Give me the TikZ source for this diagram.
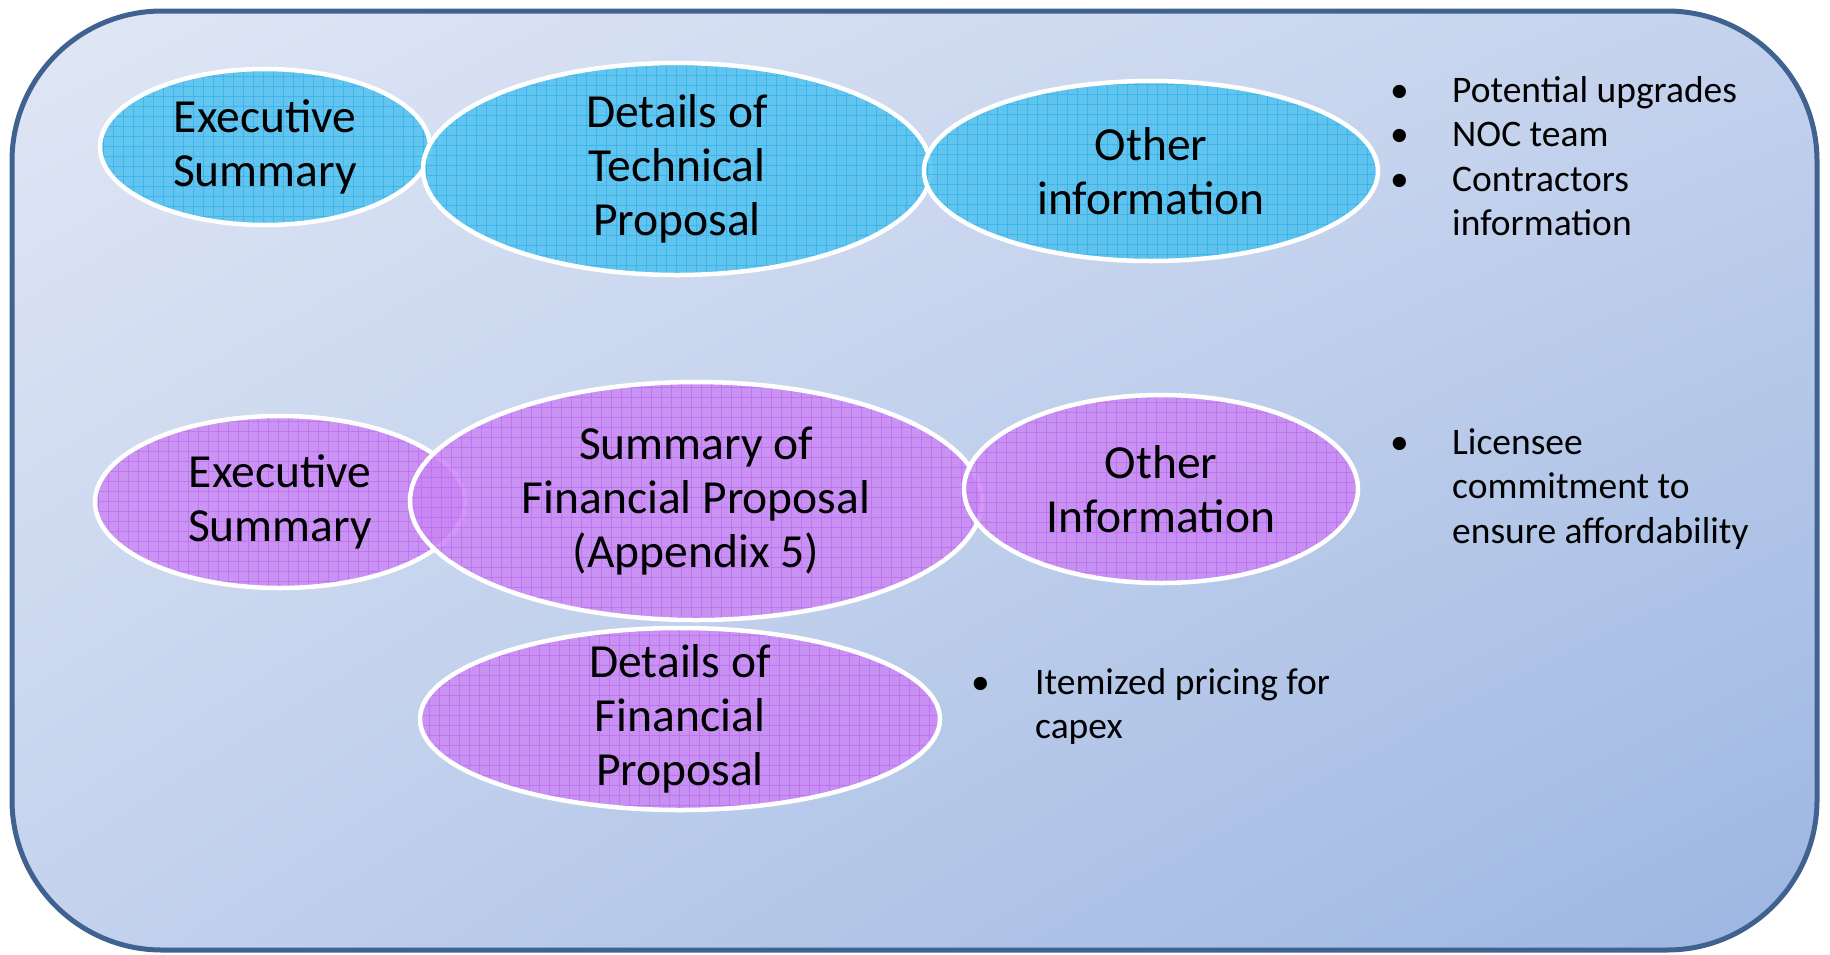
\documentclass[tikz,border=0pt]{standalone}
\usepackage{fontspec}
\setmainfont{Carlito}
\usetikzlibrary{shapes.geometric,shadings}

\definecolor{techfill}{RGB}{79,193,239}
\definecolor{techgrid}{RGB}{30,170,232}
\definecolor{finfill}{RGB}{201,136,244}
\definecolor{fingrid}{RGB}{190,90,240}
\definecolor{frameline}{RGB}{63,98,144}
\definecolor{bgtl}{RGB}{224,231,245}
\definecolor{bgmid}{RGB}{196,210,237}
\definecolor{bgbr}{RGB}{156,182,226}

\tikzset{
	bubble/.style={ellipse, draw=white, line width=4.5pt, inner xsep=0pt, inner ysep=-16pt, align=center,
		fill opacity=0.85, text opacity=1, font=\fontsize{47.5}{53.7}\selectfont},
	techbubble/.style={bubble, fill=techfill, path picture={\draw[techgrid, line width=1pt, draw opacity=0.55]
		(path picture bounding box.south west) grid[step=10pt] (path picture bounding box.north east);}},
	finbubble/.style={bubble, fill=finfill, path picture={\draw[fingrid, line width=1pt, draw opacity=0.55]
		(path picture bounding box.south west) grid[step=10pt] (path picture bounding box.north east);}},
	bullets/.style={inner sep=0pt, anchor=base west, font=\fontsize{37.5}{44.5}\selectfont}
}

\begin{document}
\begin{tikzpicture}[x=1pt,y=1pt]
	\useasboundingbox (0,0) rectangle (1830,-954);
	\shade[rounded corners=150pt, upper left=bgtl, upper right=bgmid, lower left=bgmid, lower right=bgbr] (12,-11) rectangle (1817,-950);
	\draw[frameline, line width=5pt, rounded corners=150pt] (12,-11) rectangle (1817,-950);
	%
	\node[techbubble, minimum width=330pt, minimum height=156pt] (techexec) at (265,-147) {Executive\\Summary};
	\node[techbubble, minimum width=508pt, minimum height=212pt] (techdetails) at (677,-169) {Details of\\Technical\\Proposal};
	\node[techbubble, minimum width=454pt, minimum height=180pt] (techother) at (1151,-171) {Other\\information};
	\node[bullets] (techlist) at (1390,-102) {\begin{tabular}[t]{@{}p{62pt}@{}l@{}}
		\textbullet & Potential upgrades\\
		\textbullet & NOC team\\
		\textbullet & Contractors\\
		 & information
	\end{tabular}};
	%
	\node[finbubble, minimum width=370pt, minimum height=172pt] (finexec) at (280,-502) {Executive\\Summary};
	\node[finbubble, minimum width=572pt, minimum height=238pt] (finsummary) at (696,-501) {Summary of\\Financial Proposal\\(Appendix 5)};
	\node[finbubble, minimum width=394pt, minimum height=188pt] (finother) at (1161,-489) {Other\\Information};
	\node[finbubble, minimum width=520pt, minimum height=182pt] (findetails) at (680,-719) {Details of\\Financial\\Proposal};
	\node[bullets] (otherlist) at (1390,-454) {\begin{tabular}[t]{@{}p{62pt}@{}l@{}}
		\textbullet & Licensee\\
		 & commitment to\\
		 & ensure affordability
	\end{tabular}};
	\node[bullets] (detailslist) at (971,-694) {\begin{tabular}[t]{@{}p{64pt}@{}l@{}}
		\textbullet & Itemized pricing for\\
		 & capex
	\end{tabular}};
\end{tikzpicture}
\end{document}
